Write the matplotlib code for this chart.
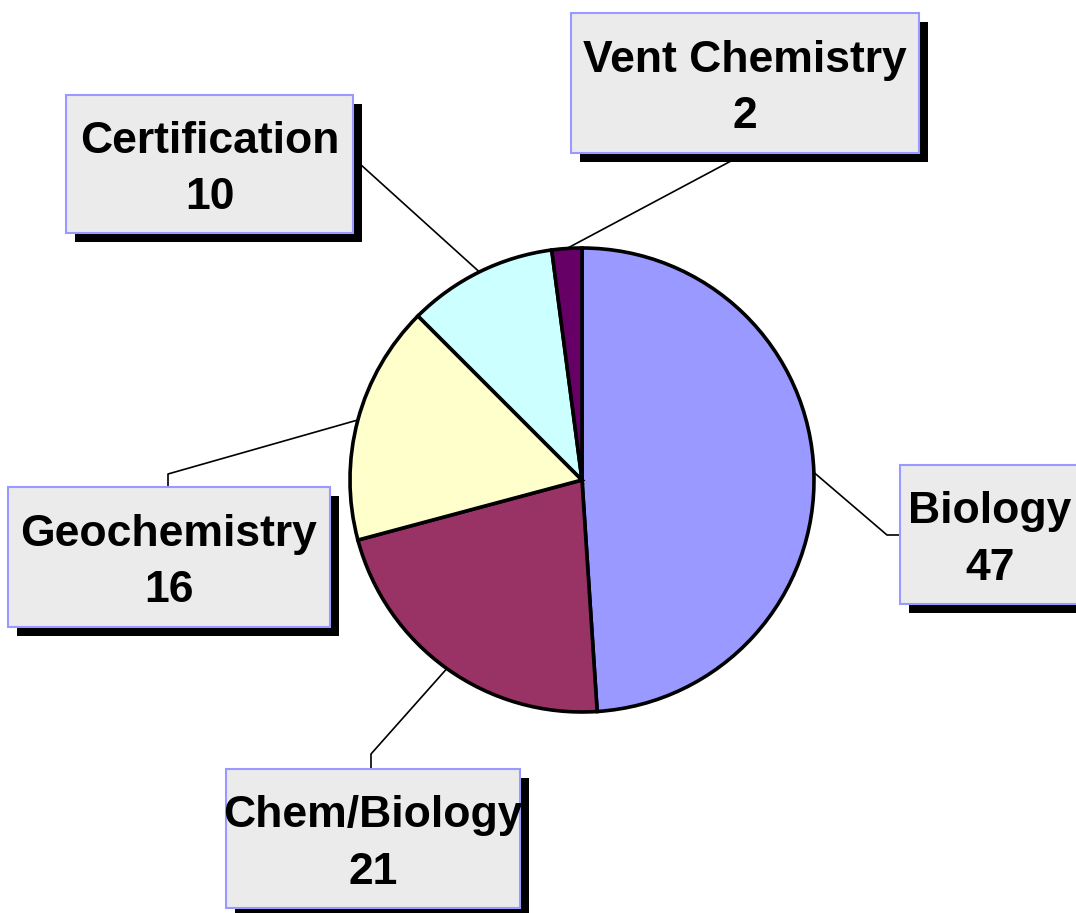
import numpy as np
import matplotlib.pyplot as plt
from matplotlib.patches import Rectangle

# Datos del grafico
etiquetas = ['Biology', 'Chem/Biology', 'Geochemistry', 'Certification', 'Vent Chemistry']
valores = [47, 21, 16, 10, 2]
colores = ['#9999ff', '#993366', '#ffffcc', '#ccffff', '#660066']

W, H = 1076, 913

# Cajas de rotulos en pixeles (x0, y0, x1, y1) y puntos de la linea guia
cajas = {
    'Biology': (900, 465, 1080, 604),
    'Chem/Biology': (226, 769, 520, 908),
    'Geochemistry': (8, 487, 330, 627),
    'Certification': (66, 95, 353, 233),
    'Vent Chemistry': (571, 13, 919, 153),
}
guias = {
    'Biology': [(887, 535), (900, 535)],
    'Chem/Biology': [(371, 754), (371, 769)],
    'Geochemistry': [(168, 474), (168, 487)],
    'Certification': [(360, 164)],
    'Vent Chemistry': [(746, 153)],
}

fig = plt.figure(figsize=(W / 100, H / 100), dpi=100)
ax = fig.add_axes([0, 0, 1, 1])

cx, cy, r = 582, H - 480, 232
wedges, _ = ax.pie(valores, colors=colores, startangle=90, counterclock=False,
                   center=(cx, cy), radius=r, frame=True,
                   wedgeprops=dict(edgecolor='black', linewidth=2.6))
for w in wedges:
    w.set_zorder(3)

ax.set_xlim(0, W)
ax.set_ylim(0, H)
ax.set_aspect('equal')
ax.axis('off')

font = dict(family='Liberation Sans', weight='bold', fontsize=32, color='black')

for w, lab, val in zip(wedges, etiquetas, valores):
    # Linea guia desde el punto medio del sector
    ang = np.deg2rad((w.theta1 + w.theta2) / 2)
    px, py = cx + r * np.cos(ang), cy + r * np.sin(ang)
    xs = [px] + [p[0] for p in guias[lab]]
    ys = [py] + [H - p[1] for p in guias[lab]]
    ax.plot(xs, ys, color='black', linewidth=1.2, zorder=2)

    # Caja con sombra
    x0, y0, x1, y1 = cajas[lab]
    ax.add_patch(Rectangle((x0 + 9, H - y1 - 9), x1 - x0, y1 - y0,
                           facecolor='black', edgecolor='none', zorder=4))
    ax.add_patch(Rectangle((x0, H - y1), x1 - x0, y1 - y0,
                           facecolor='#ebebeb', edgecolor='#9999ff', linewidth=1.5, zorder=5))
    xc = (x0 + x1) / 2
    yc = (y0 + y1) / 2
    ax.text(xc, H - (yc - 11), lab, ha='center', va='baseline', zorder=6, **font)
    ax.text(xc, H - (yc + 45), str(val), ha='center', va='baseline', zorder=6, **font)

plt.savefig('out.png', dpi=100)
